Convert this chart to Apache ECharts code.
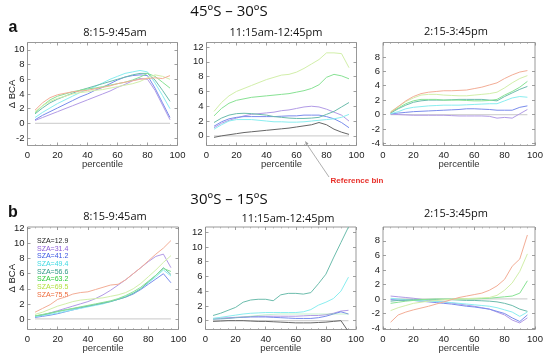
<!DOCTYPE html>
<html><head><meta charset="utf-8">
<script src="https://cdn.jsdelivr.net/npm/echarts@6/dist/echarts.min.js"></script>
<style>html,body{margin:0;padding:0;background:#fff}#c{width:550px;height:357px}</style>
</head><body><div id="c"></div>
<script>
// ---------- data ----------
const percentile = [5,10,15,20,25,30,35,40,45,50,55,60,65,70,75,80,85,90,95];
const szaLabels = ['SZA=12.9','SZA=31.4','SZA=41.2','SZA=49.4','SZA=56.6','SZA=63.2','SZA=69.5','SZA=75.5'];
const xTicks = [0,20,40,60,80,100];
const yTicksA1 = [-2,0,2,4,6,8,10];
const yTicksA2 = [0,2,4,6,8,10,12];
const yTicksA3 = [-4,-2,0,2,4,6,8];
const yTicksB1 = [0,2,4,6,8,10,12];
const yTicksB2 = [0,2,4,6,8,10,12];
const yTicksB3 = [-4,-2,0,2,4,6,8];
const referenceBin = percentile.map(() => 0);

// panel a1 : 45S-30S, 8:15-9:45am
const a1_314 = [0.4,0.8,1.2,1.6,2.0,2.4,2.8,3.2,3.6,4.0,4.4,4.9,5.3,5.8,6.1,6.0,4.5,2.5,0.5];
const a1_412 = [0.5,1.1,1.6,2.1,2.6,3.1,3.6,4.0,4.5,4.9,5.4,5.9,6.3,6.5,6.6,6.5,4.8,2.8,0.8];
const a1_494 = [0.8,1.5,2.1,2.7,3.2,3.7,4.2,4.6,5.0,5.5,6.0,6.4,6.8,7.0,7.2,7.0,5.5,3.8,2.0];
const a1_566 = [1.3,2.1,2.8,3.3,3.7,4.1,4.5,4.8,5.1,5.4,5.7,6.0,6.3,6.6,6.8,6.8,5.9,4.5,3.0];
const a1_632 = [1.4,2.4,3.2,3.7,4.0,4.3,4.5,4.7,4.8,5.0,5.2,5.4,5.6,5.9,6.3,6.8,6.4,5.6,4.8];
const a1_695 = [1.6,2.4,3.0,3.4,3.7,4.0,4.2,4.3,4.5,4.6,4.8,5.0,5.2,5.4,5.7,6.2,6.6,6.4,6.0];
const a1_755 = [1.8,2.8,3.5,3.9,4.1,4.3,4.4,4.5,4.7,4.9,5.1,5.4,5.6,5.8,6.0,6.1,6.2,6.1,6.5];

// panel a2 : 45S-30S, 11:15am-12:45pm
const a2_129 = [-0.2,0.0,0.15,0.3,0.45,0.55,0.65,0.75,0.85,0.95,1.05,1.2,1.35,1.5,1.8,1.5,0.9,0.5,0.2];
const a2_314 = [1.1,1.7,2.1,2.4,2.7,2.9,3.0,3.1,3.2,3.4,3.5,3.7,3.9,4.0,3.9,3.6,3.2,2.8,2.0];
const a2_412 = [1.3,1.9,2.3,2.5,2.6,2.6,2.6,2.6,2.6,2.65,2.7,2.7,2.8,2.8,2.8,2.6,2.3,1.8,1.1];
const a2_494 = [0.9,1.5,2.0,2.2,2.2,2.2,2.1,2.0,1.9,1.9,1.85,1.85,1.9,2.0,2.1,2.2,2.3,2.5,2.9];
const a2_566 = [1.8,2.4,2.8,3.0,3.05,3.0,2.9,2.8,2.6,2.5,2.4,2.35,2.35,2.4,2.5,2.9,3.3,3.9,4.5];
const a2_632 = [2.7,3.7,4.4,4.8,5.0,5.2,5.3,5.4,5.5,5.6,5.7,5.9,6.1,6.4,6.9,7.9,8.3,8.1,7.7];
const a2_695 = [3.3,4.5,5.4,6.0,6.4,6.8,7.2,7.6,7.9,8.2,8.3,8.6,9.1,9.7,10.3,11.2,11.2,11.1,9.2];

// panel a3 : 45S-30S, 2:15-3:45pm
const a3_314 = [0.05,0.0,-0.05,-0.1,-0.1,-0.1,-0.1,-0.1,-0.15,-0.2,-0.2,-0.2,-0.2,-0.25,-0.5,-0.4,-0.5,0.1,0.7];
const a3_412 = [0.1,0.2,0.3,0.4,0.45,0.5,0.55,0.6,0.65,0.7,0.8,0.8,0.75,0.7,0.6,0.6,0.6,1.0,1.2];
const a3_494 = [0.1,0.4,0.8,1.0,1.1,1.2,1.25,1.3,1.3,1.3,1.35,1.4,1.45,1.5,1.5,1.9,2.3,2.5,2.4];
const a3_566 = [0.2,0.8,1.3,1.7,1.9,2.0,2.0,2.0,2.05,2.1,2.1,2.1,2.1,2.0,1.9,2.5,3.0,3.5,3.9];
const a3_632 = [0.3,0.9,1.5,1.9,2.1,2.1,2.1,2.0,2.0,2.0,1.95,1.9,1.9,1.95,2.1,2.7,3.2,3.8,4.6];
const a3_695 = [0.4,1.1,1.8,2.3,2.7,2.8,2.8,2.7,2.65,2.6,2.6,2.7,2.8,2.9,3.1,3.7,4.4,5.0,5.4];
const a3_755 = [0.3,1.1,1.9,2.5,2.9,3.1,3.2,3.3,3.3,3.35,3.4,3.6,3.8,4.1,4.4,5.0,5.5,5.9,6.1];

// panel b1 : 30S-15S, 8:15-9:45am
const b1_314 = [0.3,0.5,0.8,1.1,1.4,1.7,2.0,2.3,2.7,3.2,3.8,4.5,5.2,6.0,6.8,7.6,8.3,8.6,6.8];
const b1_412 = [0.2,0.35,0.5,0.7,0.95,1.2,1.45,1.7,1.9,2.1,2.35,2.6,2.9,3.3,3.9,4.6,5.3,6.0,4.8];
const b1_494 = [0.3,0.45,0.6,0.8,1.0,1.2,1.4,1.6,1.8,2.0,2.3,2.6,3.0,3.4,4.0,4.8,5.6,6.5,5.7];
const b1_566 = [0.4,0.55,0.75,1.0,1.2,1.35,1.55,1.7,1.9,2.1,2.3,2.6,2.9,3.4,4.0,4.9,5.8,6.8,5.9];
const b1_632 = [0.4,0.6,0.8,1.0,1.2,1.4,1.6,1.8,2.0,2.2,2.4,2.7,3.1,3.6,4.2,5.0,5.8,6.7,6.3];
const b1_695 = [0.6,0.9,1.3,1.7,2.0,2.3,2.5,2.6,2.7,2.8,3.0,3.2,3.5,4.0,4.7,5.6,6.5,7.5,8.4];
const b1_755 = [0.9,1.4,1.9,2.6,2.9,3.3,3.5,3.6,3.9,4.2,4.5,4.6,5.2,6.0,6.8,7.7,8.6,9.4,10.4];

// panel b2 : 30S-15S, 11:15am-12:45pm
const b2_129 = [-0.1,-0.05,0.0,0.0,0.0,-0.05,-0.1,-0.1,-0.15,-0.2,-0.25,-0.3,-0.3,-0.3,-0.25,-0.2,-0.1,0.0,-1.5];
const b2_314 = [0.3,0.35,0.4,0.45,0.5,0.55,0.6,0.6,0.6,0.6,0.6,0.6,0.65,0.7,0.7,0.8,1.0,1.3,1.4];
const b2_412 = [0.2,0.25,0.3,0.4,0.45,0.5,0.5,0.5,0.45,0.4,0.35,0.3,0.3,0.3,0.4,0.6,0.9,1.2,0.9];
const b2_494 = [0.3,0.45,0.6,0.75,0.9,1.0,1.05,1.1,1.1,1.1,1.1,1.1,1.2,1.5,2.1,2.5,3.0,4.0,5.9];
const b2_566 = [0.7,1.0,1.4,1.8,2.5,2.8,2.9,2.9,2.7,3.5,3.7,3.7,3.6,3.8,5.0,6.3,8.5,10.6,12.7];
const b2_632 = [0.2,0.25,0.3,0.4,0.5,0.6,0.7,0.8,0.85,0.9,0.9,0.9,0.9,0.9,0.9,0.9,0.9,0.9,0.9];

// panel b3 : 30S-15S, 2:15-3:45pm
const b3_314 = [0.4,0.3,0.2,0.1,-0.05,-0.2,-0.3,-0.4,-0.55,-0.7,-0.85,-1.0,-1.2,-1.4,-1.8,-2.2,-2.9,-3.3,-2.6];
const b3_412 = [-0.1,-0.15,-0.2,-0.2,-0.3,-0.4,-0.5,-0.6,-0.7,-0.85,-1.0,-1.1,-1.25,-1.4,-1.7,-2.0,-2.6,-3.1,-2.2];
const b3_494 = [0.1,0.0,-0.1,-0.2,-0.25,-0.3,-0.35,-0.4,-0.5,-0.6,-0.7,-0.8,-0.9,-1.0,-1.2,-1.5,-1.8,-2.4,-1.8];
const b3_566 = [-0.3,-0.2,-0.15,-0.1,-0.1,-0.1,-0.1,-0.1,-0.1,-0.15,-0.2,-0.2,-0.25,-0.3,-0.4,-0.6,-0.9,-1.4,-1.7];
const b3_632 = [-0.6,-0.45,-0.3,-0.2,-0.1,-0.05,0.0,0.0,0.0,0.0,0.0,0.0,0.05,0.1,0.2,0.3,0.4,0.8,2.5];
const b3_695 = [-1.6,-1.2,-0.9,-0.6,-0.45,-0.3,-0.2,-0.1,-0.05,0.0,0.05,0.1,0.15,0.2,0.5,1.2,2.2,3.8,6.2];
const b3_755 = [-3.2,-2.2,-1.8,-1.5,-1.25,-1.0,-0.7,-0.4,-0.1,0.2,0.4,0.6,0.8,1.2,1.8,2.7,4.5,5.5,8.8];

// ---------- styling ----------
const lineColors = ['#666666','#b29be6','#7a8cec','#8aeef0','#6cbcac','#88e294','#d2efaa','#f3ad96'];
const textColors = ['#222222','#8c5bd8','#3a56e2','#3fd9e2','#2f9a86','#2ccc3a','#b2e03c','#ee6a3a'];
const AX = "'Liberation Sans', Arial, sans-serif";
const TF = "'Open Sans', 'Liberation Sans', sans-serif";

const grids = [
  {left:27.5, top:42.5, width:150, height:103},
  {left:206.5, top:42.5, width:150, height:103},
  {left:383, top:42.5, width:152, height:103},
  {left:27.5, top:227, width:151, height:102.5},
  {left:205.5, top:227, width:150.5, height:102.5},
  {left:383, top:227, width:152, height:102.5}
];
const yRanges = [[-3,11],[-1.3,12.6],[-4.3,10],[-1.4,12.2],[-1.2,12.7],[-4.2,9.9]];
const yTicks = [yTicksA1,yTicksA2,yTicksA3,yTicksB1,yTicksB2,yTicksB3];
const panels = [
  {1:a1_314,2:a1_412,3:a1_494,4:a1_566,5:a1_632,6:a1_695,7:a1_755},
  {0:a2_129,1:a2_314,2:a2_412,3:a2_494,4:a2_566,5:a2_632,6:a2_695},
  {1:a3_314,2:a3_412,3:a3_494,4:a3_566,5:a3_632,6:a3_695,7:a3_755},
  {1:b1_314,2:b1_412,3:b1_494,4:b1_566,5:b1_632,6:b1_695,7:b1_755},
  {0:b2_129,1:b2_314,2:b2_412,3:b2_494,4:b2_566,5:b2_632},
  {1:b3_314,2:b3_412,3:b3_494,4:b3_566,5:b3_632,6:b3_695,7:b3_755}
];
const faint = {4:{5:0.45}};

const tickStyle = {inside:true, length:3, lineStyle:{color:'#888', width:0.8}};
const xAxis = [], yAxis = [], series = [];
grids.forEach((g, i) => {
  const base = {gridIndex:i, type:'value', min:0, max:100, interval:20,
    axisLine:{show:false, onZero:false}, splitLine:{show:false}, axisTick:tickStyle,
    minorTick:{show:true, splitNumber:4, length:1.5, lineStyle:{color:'#999', width:0.6}}};
  xAxis.push(Object.assign({}, base, {position:'bottom',
    name:'percentile', nameLocation:'middle', nameGap:13.5, nameMoveOverlap:false,
    nameTextStyle:{fontFamily:AX, fontSize:9.5, color:'#333'},
    axisLabel:{fontFamily:AX, fontSize:9.5, color:'#222', margin:5}}));
  xAxis.push(Object.assign({}, base, {position:'top', axisLabel:{show:false}}));
  const yb = {gridIndex:i, type:'value', min:yRanges[i][0], max:yRanges[i][1],
    axisLine:{show:false, onZero:false}, splitLine:{show:false},
    axisTick:Object.assign({customValues:yTicks[i]}, tickStyle)};
  const yl = Object.assign({}, yb, {position:'left',
    axisLabel:{customValues:yTicks[i], fontFamily:AX, fontSize:9.5, color:'#222', margin:3}});
  if (i === 0 || i === 3) {
    Object.assign(yl, {name:'Δ BCA', nameLocation:'middle', nameGap:10, nameMoveOverlap:false,
      nameTextStyle:{fontFamily:AX, fontSize:9.5, color:'#222'}});
  }
  yAxis.push(yl);
  yAxis.push(Object.assign({}, yb, {position:'right', axisLabel:{show:false}}));

  series.push({type:'line', xAxisIndex:2*i, yAxisIndex:2*i, symbol:'none', silent:true,
    data: percentile.map((x,k)=>[x, referenceBin[k]]),
    lineStyle:{color:'#d4d4d4', width:1.2}, z:1});
  Object.keys(panels[i]).forEach(key => {
    const vals = panels[i][key];
    const op = (faint[i] && faint[i][key]) || 1;
    series.push({type:'line', name:szaLabels[key], xAxisIndex:2*i, yAxisIndex:2*i,
      symbol:'none', silent:true, clip:true,
      data: percentile.map((x,k)=>[x, vals[k]]),
      lineStyle:{color:lineColors[key], width:1, opacity:op}, z:2});
  });
});

const graphic = [];
function txt(x, y, s, opt) {
  graphic.push({type:'text', x:x, y:y, silent:true, style:Object.assign({text:s, textAlign:'center', textVerticalAlign:'middle', fill:'#111', font:'11px '+TF}, opt||{})});
}
txt(229, 12, '45ºS – 30ºS', {font:'15px '+TF});
txt(229, 200, '30ºS – 15ºS', {font:'15px '+TF});
txt(13, 28, 'a', {font:'bold 16px '+AX});
txt(13, 213, 'b', {font:'bold 16px '+AX});
txt(115, 33, '8:15-9:45am');
txt(276, 33, '11:15am-12:45pm');
txt(456, 32, '2:15-3:45pm');
txt(115, 217, '8:15-9:45am');
txt(288, 219, '11:15am-12:45pm');
txt(456, 214, '2:15-3:45pm');
txt(357, 181, 'Reference bin', {font:'bold 8px '+AX, fill:'#e8302a'});
szaLabels.forEach((s, k) => {
  graphic.push({type:'text', x:37, y:241 + k*7.7, silent:true,
    style:{text:s, textAlign:'left', textVerticalAlign:'middle', fill:textColors[k], font:'7px '+AX}});
});
// arrow pointing to reference bin
graphic.push({type:'line', silent:true, shape:{x1:329, y1:177, x2:306, y2:143}, style:{stroke:'#9a9a9a', lineWidth:0.8}});
graphic.push({type:'polygon', silent:true, shape:{points:[[305,141],[308.5,143.6],[306,145.2]]}, style:{fill:'#9a9a9a'}});

const chart = echarts.init(document.getElementById('c'), null, {renderer:'canvas'});
chart.setOption({
  animation:false,
  backgroundColor:'#fff',
  grid: grids.map(g => Object.assign({show:true, borderColor:'#999', borderWidth:1, backgroundColor:'transparent', containLabel:false}, g)),
  xAxis, yAxis, series, graphic
});
</script></body></html>
